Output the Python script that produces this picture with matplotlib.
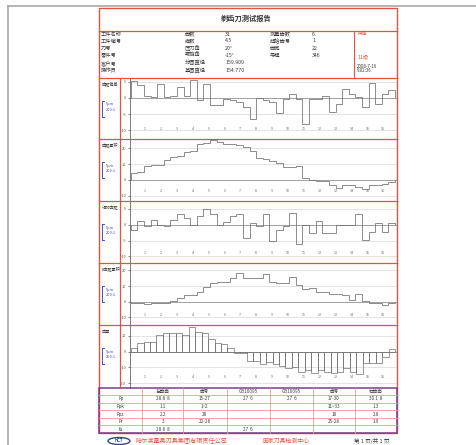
import numpy as np
import matplotlib
matplotlib.use("Agg")
import matplotlib.pyplot as plt
from matplotlib.patches import Rectangle, Ellipse

plt.rcParams['font.family'] = ['Noto Sans CJK SC', 'DejaVu Sans']

# ---------------- report data ----------------
title = "剃齿刀测试报告"

info_labels_a = ["工件名称", "工件编号", "刀号", "零件号", "客户号", "操作员"]
info_labels_b = ["齿数", "模数", "压力角", "螺旋角", "分圆直径", "基圆直径"]
info_values_b = ["31", "4.5", "20°", "-15°", "159.909", "154.770"]
info_labels_c = ["测量齿数", "起始齿号", "齿宽", "导程"]
info_values_c = ["6", "1", "22", "346"]
grade_title = "评定"
grade_value = "11级"
test_date = "2008-7-16"
test_time = "9:02:36"

panel_titles = ["齿距偏差", "齿距累积", "相邻齿距", "k齿距累积", "齿厚"]
scale_text = ["5μm", "200:1"]

pitch_dev = [5.2, 3.8, 0.7, 0.4, 4.4, 0.4, 0.7, 3.3, 0.7, 5.6,
             -0.8, 4.4, -2.1, -2.1, -0.3, -0.8, -1.4, -2.9, -6.6, 0.0,
             -0.8, -1.4, -4.8, -0.3, 1.2, -0.3, -8.1, -0.3, -0.3, 0.7,
             -4.5, -1.9, 2.8, 1.2, 0.2, -2.9, 4.6, -1.9, 1.2, 2.3]
pitch_cum = [4.2, 5.2, 9.0, 9.4, 9.4, 12.7, 14.2, 15.2, 17.3, 18.3,
             22.5, 23.5, 25.2, 24.0, 22.5, 22.5, 21.9, 21.0, 18.3, 13.5,
             13.1, 12.1, 10.6, 7.9, 7.9, 9.0, 1.0, 0.0, -0.4, -0.4,
             -3.5, -5.2, -3.5, -3.5, -4.2, -6.0, -3.5, -3.5, -2.5, -1.5]
adjacent = [-1.6, 1.1, -0.3, 1.4, 0.0, -0.5, 1.4, 3.3, 2.2, 0.0,
            2.7, 4.9, 3.3, 0.0, 0.8, 2.7, 3.3, -4.3, 0.5, -0.5,
            3.3, -5.1, -1.6, -0.5, 3.8, -6.0, 0.0, -2.7, 1.1, -2.7,
            -2.7, 0.0, 0.0, 0.0, 3.3, -4.9, -2.2, 0.5, -2.2, 0.5]
k_cum = [-0.6, -1.1, -1.5, -0.6, -0.6, -1.1, 0.6, 2.1, 4.3, 4.3,
         6.4, 9.6, 11.7, 12.8, 12.8, 14.9, 18.1, 14.9, 14.9, 14.9,
         17.7, 12.8, 12.1, 12.1, 16.0, 10.6, 7.9, 9.1, 6.4, 6.4,
         4.9, 4.9, 4.3, 1.1, 4.9, 0.6, -0.6, -0.6, -2.1, -1.1]
thickness = [2.1, 5.3, 6.4, 6.4, 10.6, 11.7, 11.7, 11.7, 10.6, 15.5,
             12.8, 12.1, 7.9, 5.7, 4.9, 2.1, -0.6, -0.6, -5.7, -5.7,
             -7.9, -6.4, -7.9, -9.1, -10.6, -9.6, -12.8, -11.7, -13.8, -11.7,
             -12.8, -13.8, -12.8, -10.6, -12.8, -14.3, -7.4, -7.4, -7.4, -3.6,
             1.5]

panel_series = [pitch_dev, pitch_cum, adjacent, k_cum, thickness]
panel_ticks = [[5, 0, -5, -10], [20, 10, 0, -10], [5, 0, -5, -10],
               [20, 10, 0, -10], [10, 0, -10, -20]]
panel_ylims = [(-12.5, 6.25), (-13, 26.1), (-11.9, 7.6), (-14.9, 25.1), (-22.8, 17)]
x_numbers = [str(i) for i in range(1, 17)]

table_header = ["左齿面", "齿号", "GB10095", "GB10095", "齿号", "右齿面"]
table_rows = ["Fp", "Fpk", "Fpz", "Fr", "fu"]
table_values = [
    ["28.8  8", "15-27", "27  6", "27  6", "17-30", "30.1  8"],
    ["1.1", "1~2", "", "", "11~33", "1.3"],
    ["2.2", "28", "", "", "18", "2.8"],
    ["3", "22-28", "", "", "25-28", "1.9"],
    ["28.8  8", "", "27  6", "", "", ""],
]
footer_company = "哈尔滨量具刃具集团有限责任公司"
footer_center = "国家刀具检测中心"
footer_page = "第 1 页/共 1 页"

# ---------------- layout (pixels) ----------------
W, H = 477, 445
RED = "#e5533d"
PINK = "#ef9a90"
PURPLE = "#7b3d8c"
GREY_LINE = "#6e6e6e"
TEXT = "#3a3a3a"

fig = plt.figure(figsize=(W / 100, H / 100), dpi=100)
fig.patch.set_facecolor("white")

frame_l, frame_r = 99, 397
plot_l = 130
bounds = [77.5, 138.5, 200.5, 262.5, 325, 387.5]

for i, vals in enumerate(panel_series):
    top, bot = bounds[i], bounds[i + 1]
    ax = fig.add_axes([plot_l / W, 1 - bot / H, (frame_r - plot_l) / W, (bot - top) / H])
    ax.set_facecolor("none")
    n = len(vals)
    k = n / 264.3
    ax.set_xlim(-0.7 * k, n + 2.0 * k)
    ax.set_ylim(*panel_ylims[i])
    for t in panel_ticks[i]:
        ax.axhline(t, color="#d8d8d8", lw=0.5, zorder=1)
    ax.axhline(0, color="#a0a0a0", lw=0.7, zorder=1)
    edges = np.arange(n + 1)
    if i == 4:
        ax.bar(np.arange(n), vals, width=1, align="edge", fill=False,
               edgecolor=GREY_LINE, lw=0.5, zorder=3)
    else:
        ax.stairs(vals, edges, baseline=0, color=GREY_LINE, lw=0.55, zorder=3)
    for s in ["top", "right", "bottom"]:
        ax.spines[s].set_visible(False)
    ax.spines["left"].set_color("#666666")
    ax.spines["left"].set_linewidth(0.6)
    ax.set_xticks([])
    ax.set_yticks(panel_ticks[i])
    ax.set_yticklabels([str(t) for t in panel_ticks[i]])
    ax.tick_params(axis="y", length=1.8, width=0.5, pad=1, labelsize=2.8,
                   colors="#555555")
    for j, lab in enumerate(x_numbers):
        xf = 0.056 + j * (0.948 - 0.056) / (len(x_numbers) - 1)
        ax.text(xf, 0.16, lab, transform=ax.transAxes, fontsize=2.6,
                color="#666666", ha="center", va="center")

# overlay for page frame, headings and table
pg = fig.add_axes([0, 0, 1, 1])
pg.set_facecolor("none")
pg.set_xlim(0, W)
pg.set_ylim(H, 0)
pg.axis("off")

# scan border
pg.plot([8, W], [6, 6], color="#a8a8a8", lw=1.2)
pg.plot([8, 8], [6, H], color="#a8a8a8", lw=1.2)

# report frame
pg.add_patch(Rectangle((frame_l, 8), frame_r - frame_l, 433 - 8, fill=False,
                       edgecolor=RED, lw=1.0))
for y in [31] + bounds[:-1]:
    pg.plot([frame_l, frame_r], [y, y], color=RED, lw=0.9)
pg.plot([120, 120], [77.5, 387.5], color=RED, lw=0.9)
pg.plot([354, 354], [31, 77.5], color=RED, lw=0.8)

pg.text(246, 18, title, fontsize=5.2, ha="center", va="center",
        color="#333333", fontweight="bold")

row_y = [34, 41, 48, 55.5, 63, 70.5]
info_fs = 3.8
for y, lab in zip(row_y, info_labels_a):
    pg.text(101, y, lab, fontsize=info_fs, va="center", color=TEXT)
for y, lab, val in zip(row_y, info_labels_b, info_values_b):
    pg.text(185, y, lab, fontsize=info_fs, va="center", color=TEXT)
    pg.text(225, y, val, fontsize=info_fs, va="center", color=TEXT)
for y, lab, val in zip(row_y, info_labels_c, info_values_c):
    pg.text(270, y, lab, fontsize=info_fs, va="center", color=TEXT)
    pg.text(312, y, val, fontsize=info_fs, va="center", color=TEXT)
pg.text(357, 33.5, grade_title, fontsize=info_fs, va="center", color=RED)
pg.text(357, 56.5, grade_value, fontsize=info_fs, va="center", color=RED)
pg.text(357, 66, test_date, fontsize=3.2, va="center", color=TEXT)
pg.text(357, 70.5, test_time, fontsize=3.2, va="center", color=TEXT)

# left label column of each panel
for i, name in enumerate(panel_titles):
    top = bounds[i]
    pg.text(102, top + 6.5, name, fontsize=3.0, va="center", color=TEXT)
    pg.plot([102, 102], [top + 23, top + 39], color="#4455bb", lw=0.7)
    pg.plot([102, 104], [top + 23, top + 23], color="#4455bb", lw=0.7)
    pg.plot([102, 104], [top + 39, top + 39], color="#4455bb", lw=0.7)
    pg.text(106, top + 27, scale_text[0], fontsize=2.8, va="center", color="#3344aa")
    pg.text(106, top + 32.5, scale_text[1], fontsize=2.8, va="center", color="#3344aa")

# results table
t_top, t_bot = 387.5, 433
col_x = [frame_l, 142.5, 183, 226.7, 270, 313, 355, frame_r]
n_rows = len(table_rows) + 1
rh = (t_bot - t_top) / n_rows
for r in range(1, n_rows):
    pg.plot([frame_l, frame_r], [t_top + r * rh] * 2, color=PINK, lw=0.6)
for cx in col_x[1:-1]:
    pg.plot([cx, cx], [t_top, t_bot], color=PINK, lw=0.6)
pg.add_patch(Rectangle((frame_l, t_top), frame_r - frame_l, t_bot - t_top,
                       fill=False, edgecolor=PURPLE, lw=1.1))
centers = [(col_x[c] + col_x[c + 1]) / 2 for c in range(len(col_x) - 1)]
tfs = 3.3
for c, head in enumerate(table_header):
    pg.text(centers[c + 1], t_top + rh / 2, head, fontsize=tfs, ha="center",
            va="center", color=TEXT)
for r, lab in enumerate(table_rows):
    yc = t_top + (r + 1.5) * rh
    pg.text(centers[0], yc, lab, fontsize=tfs, ha="center", va="center",
            color=TEXT)
    for c, val in enumerate(table_values[r]):
        pg.text(centers[c + 1], yc, val, fontsize=tfs, ha="center",
                va="center", color=TEXT)

# footer
pg.add_patch(Ellipse((119, 441), 22, 7, facecolor="white",
                     edgecolor="#34448a", lw=1.0))
pg.text(119, 441, "HCT", fontsize=3.0, ha="center", va="center",
        color="#34448a", fontweight="bold")
pg.text(136, 441, footer_company, fontsize=4.4, va="center", color=RED)
pg.text(286, 441, footer_center, fontsize=4.2, va="center", ha="center", color=RED)
pg.text(372, 441, footer_page, fontsize=4.0, va="center", ha="center",
        color="#444444")

fig.savefig("out.png", dpi=100, facecolor="white")
